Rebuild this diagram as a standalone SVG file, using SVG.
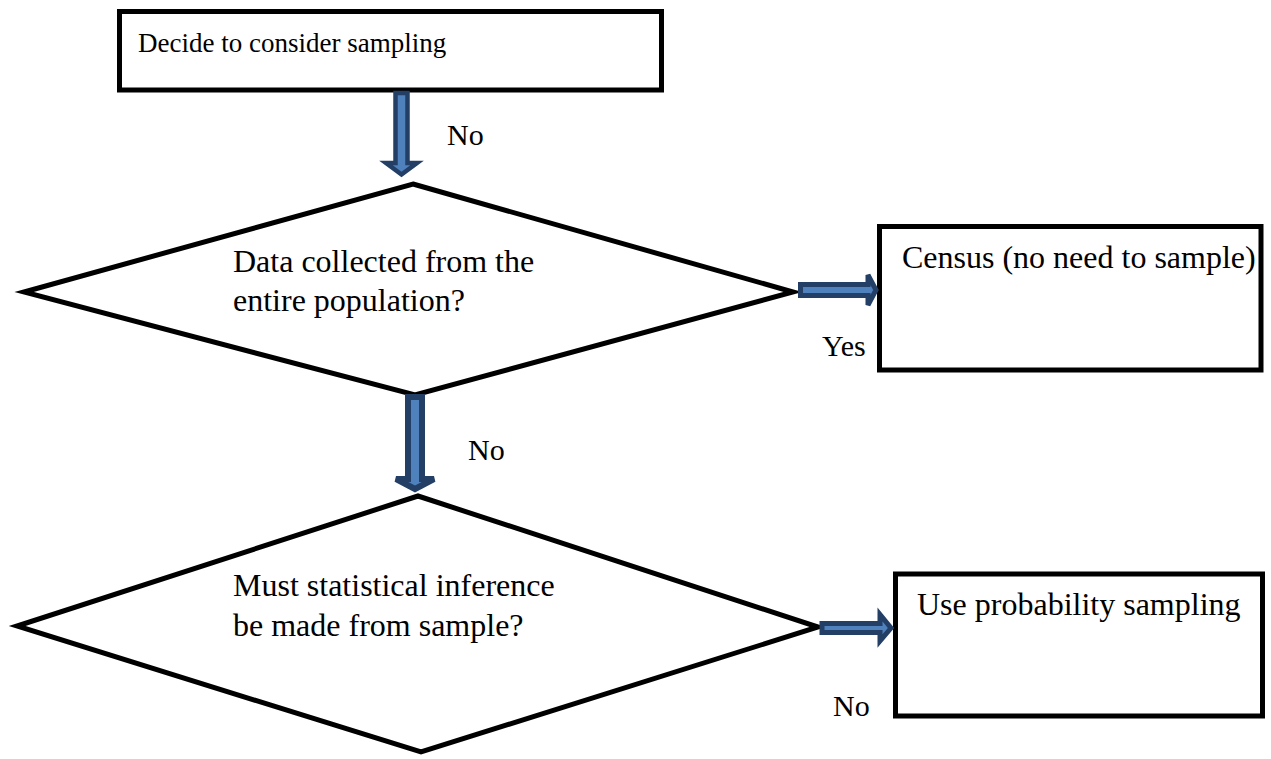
<svg xmlns="http://www.w3.org/2000/svg" width="1271" height="759" viewBox="0 0 1271 759">
  <style>
    .box { fill: #ffffff; stroke: #000000; stroke-width: 5; }
    .dia { fill: #ffffff; stroke: #000000; stroke-width: 5; stroke-linejoin: miter; }
    .arrow { fill: #4F81BD; stroke: #243F66; stroke-linejoin: miter; }
    .t { font-family: "Liberation Serif", "Times New Roman", serif; fill: #000000; }
  </style>
  <rect width="1271" height="759" fill="#ffffff"/>

  <g id="node-decide">
    <rect class="box" x="119.5" y="11.5" width="542" height="78.5"/>
    <text class="t" x="138" y="52" font-size="27">Decide to consider sampling</text>
  </g>

  <g id="node-data-collected">
    <polygon class="dia" points="413,184 793,292 415,395 24,292"/>
    <text class="t" x="233" y="272" font-size="32">Data collected from the</text>
    <text class="t" x="233" y="311" font-size="32">entire population?</text>
  </g>

  <g id="node-census">
    <rect class="box" x="879.5" y="226.5" width="381.5" height="143.5"/>
    <text class="t" x="902" y="268" font-size="32">Census (no need to sample)</text>
  </g>

  <g id="node-inference">
    <polygon class="dia" points="418,496 818,627 421,752 17,626"/>
    <text class="t" x="233" y="596" font-size="32">Must statistical inference</text>
    <text class="t" x="233" y="636" font-size="32">be made from sample?</text>
  </g>

  <g id="node-probability">
    <rect class="box" x="895.5" y="574" width="367" height="142"/>
    <text class="t" x="917" y="615" font-size="32">Use probability sampling</text>
  </g>

  <g id="connectors">
    <polygon class="arrow" stroke-width="4.5" points="395.5,93 407.5,93 407.5,163 417,163 401.5,174.5 386,163 395.5,163"/>
    <polygon class="arrow" stroke-width="6" points="408,397 422,397 422,479 434,479 415,489 396,479 408,479"/>
    <polygon class="arrow" stroke-width="5" points="800.5,284.5 868,284.5 868,275 876,290 868,305 868,295.5 800.5,295.5"/>
    <polygon class="arrow" stroke-width="5" points="822,623.5 880,623.5 880,614.5 891,628 880,641 880,632.5 822,632.5"/>
    <text class="t" x="447" y="145" font-size="30">No</text>
    <text class="t" x="822" y="356" font-size="30">Yes</text>
    <text class="t" x="468" y="460" font-size="30">No</text>
    <text class="t" x="833" y="716" font-size="30">No</text>
  </g>
</svg>
